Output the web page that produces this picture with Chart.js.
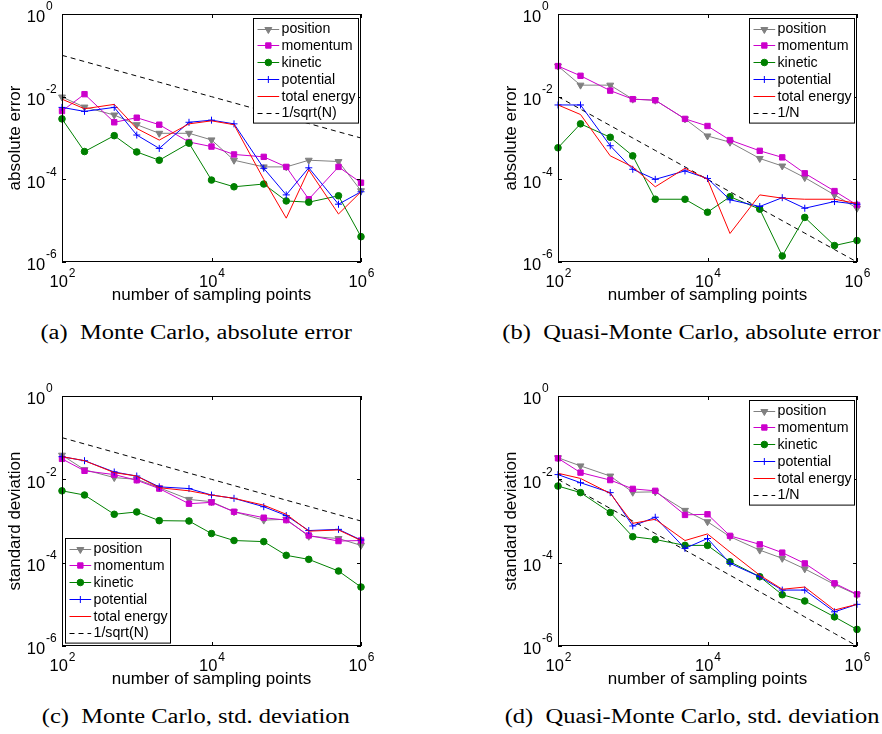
<!DOCTYPE html>
<html>
<head>
<meta charset="utf-8">
<script src="https://cdn.jsdelivr.net/npm/chart.js@4.4.1/dist/chart.umd.min.js"></script>
<style>
html, body { margin: 0; padding: 0; background: #fff; }
#page { position: relative; width: 882px; height: 734px; overflow: hidden; background: #fff; }
canvas { position: absolute; }
.caption {
    position: absolute;
    font-family: "Liberation Serif", serif;
    font-size: 20px;
    line-height: 20px;
    white-space: nowrap;
    color: #000;
}
</style>
</head>
<body>
<div id="page">
    <canvas id="chartA" width="441" height="320" style="left:0px;top:0px"></canvas>
    <canvas id="chartB" width="441" height="320" style="left:441px;top:0px"></canvas>
    <canvas id="chartC" width="441" height="320" style="left:0px;top:382px"></canvas>
    <canvas id="chartD" width="441" height="320" style="left:441px;top:382px"></canvas>
    <div class="caption" id="capA">(a)&nbsp; Monte Carlo, absolute error</div>
    <div class="caption" id="capB">(b)&nbsp; Quasi-Monte Carlo, absolute error</div>
    <div class="caption" id="capC">(c)&nbsp; Monte Carlo, std. deviation</div>
    <div class="caption" id="capD">(d)&nbsp; Quasi-Monte Carlo, std. deviation</div>
</div>
<script>
// ---- data ----
const nPoints = [100, 200, 500, 1000, 2000, 5000, 1e4, 2e4, 5e4, 1e5, 2e5, 5e5, 1e6];
const seriesNames = ['position', 'momentum', 'kinetic', 'potential', 'total energy'];
const xTickVals = [1e2, 1e4, 1e6];
const yTickVals = [1, 1e-2, 1e-4, 1e-6];

// (a) Monte Carlo, absolute error
const mcErrPosition  = [9.8e-3, 5.6e-3, 3.6e-3, 2.1e-3, 1.3e-3, 1.3e-3, 9.0e-4, 2.9e-4, 2.0e-4, 2.0e-4, 2.9e-4, 2.7e-4, 5.3e-5];
const mcErrMomentum  = [4.5e-3, 1.15e-2, 2.4e-3, 3.1e-3, 2.1e-3, 8.0e-4, 6.2e-4, 4.0e-4, 3.5e-4, 2.0e-4, 3.3e-5, 2.0e-4, 8.3e-5];
const mcErrKinetic   = [2.9e-3, 4.7e-4, 1.14e-3, 4.6e-4, 2.9e-4, 7.5e-4, 9.6e-5, 6.6e-5, 7.7e-5, 3.0e-5, 2.8e-5, 4.0e-5, 4.1e-6];
const mcErrPotential = [5.5e-3, 4.4e-3, 5.5e-3, 1.18e-3, 5.6e-4, 2.4e-3, 2.7e-3, 2.2e-3, 1.85e-4, 4.2e-5, 1.9e-4, 2.5e-5, 5.0e-5];
const mcErrTotal     = [8.7e-3, 5.1e-3, 6.5e-3, 1.7e-3, 8.9e-4, 2.2e-3, 2.6e-3, 2.1e-3, 1.0e-4, 1.15e-5, 1.7e-4, 1.45e-5, 5.0e-5];

// (b) Quasi-Monte Carlo, absolute error
const qmcErrPosition  = [5.5e-2, 1.9e-2, 1.9e-2, 8.7e-3, 8.2e-3, 2.9e-3, 1.12e-3, 7.9e-4, 3.2e-4, 2.1e-4, 1.1e-4, 4.2e-5, 2.0e-5];
const qmcErrMomentum  = [5.5e-2, 3.2e-2, 1.4e-2, 8.7e-3, 8.2e-3, 2.9e-3, 1.95e-3, 8.9e-4, 4.9e-4, 3.4e-4, 1.4e-4, 5.2e-5, 2.4e-5];
const qmcErrKinetic   = [5.8e-4, 2.2e-3, 1.04e-3, 3.7e-4, 3.3e-5, 3.3e-5, 1.6e-5, 3.8e-5, 1.9e-5, 1.4e-6, 1.2e-5, 2.5e-6, 3.3e-6];
const qmcErrPotential = [6.3e-3, 6.3e-3, 6.5e-4, 1.75e-4, 1.0e-4, 1.6e-4, 1.05e-4, 3.2e-5, 2.2e-5, 3.6e-5, 2.0e-5, 2.9e-5, 2.5e-5];
const qmcErrTotal     = [6.3e-3, 3.7e-3, 3.7e-4, 2.0e-4, 6.6e-5, 1.85e-4, 1.0e-4, 4.9e-6, 4.2e-5, 3.5e-5, 3.3e-5, 3.3e-5, 2.6e-5];

// (c) Monte Carlo, std. deviation
const mcStdPosition  = [3.8e-2, 1.7e-2, 1.1e-2, 1.0e-2, 6.3e-3, 3.3e-3, 2.9e-3, 1.67e-3, 1.05e-3, 1.1e-3, 4.3e-4, 3.8e-4, 2.6e-4];
const mcStdMomentum  = [3.1e-2, 1.6e-2, 1.3e-2, 9.5e-3, 6.0e-3, 2.6e-3, 2.8e-3, 1.67e-3, 1.2e-3, 1.05e-3, 4.5e-4, 3.3e-4, 3.4e-4];
const mcStdKinetic   = [5.3e-3, 4.2e-3, 1.45e-3, 1.65e-3, 1.02e-3, 1.0e-3, 5.0e-4, 3.4e-4, 3.2e-4, 1.5e-4, 1.2e-4, 6.3e-5, 2.6e-5];
const mcStdPotential = [3.5e-2, 2.8e-2, 1.5e-2, 1.2e-2, 6.6e-3, 6.0e-3, 4.2e-3, 3.5e-3, 2.2e-3, 1.35e-3, 5.9e-4, 6.3e-4, 3.5e-4];
const mcStdTotal     = [3.5e-2, 2.8e-2, 1.45e-2, 1.2e-2, 6.3e-3, 5.3e-3, 4.2e-3, 3.5e-3, 2.4e-3, 1.45e-3, 5.7e-4, 6.1e-4, 3.4e-4];

// (d) Quasi-Monte Carlo, std. deviation
const qmcStdPosition  = [3.3e-2, 2.1e-2, 1.2e-2, 4.9e-3, 5.0e-3, 1.8e-3, 9.6e-4, 4.2e-4, 2.0e-4, 1.27e-4, 7.1e-5, 3.0e-5, 1.7e-5];
const qmcStdMomentum  = [3.2e-2, 1.45e-2, 9.6e-3, 5.9e-3, 5.3e-3, 1.4e-3, 1.45e-3, 4.4e-4, 2.75e-4, 1.74e-4, 9.6e-5, 3.2e-5, 1.74e-5];
const qmcStdKinetic   = [6.9e-3, 4.8e-3, 1.6e-3, 4.2e-4, 3.6e-4, 2.6e-4, 2.6e-4, 1.05e-4, 4.6e-5, 1.7e-5, 1.2e-5, 5.0e-6, 2.5e-6];
const qmcStdPotential = [1.3e-2, 8.3e-3, 4.8e-3, 7.6e-4, 1.23e-3, 2.2e-4, 3.8e-4, 9.6e-5, 4.6e-5, 2.2e-5, 2.2e-5, 6.6e-6, 1.0e-5];
const qmcStdTotal     = [1.4e-2, 1.05e-2, 4.6e-3, 8.8e-4, 1.1e-3, 3.4e-4, 4.9e-4, 1.8e-4, 5.0e-5, 2.3e-5, 2.6e-5, 7.3e-6, 1.0e-5];

// reference slopes
const refSqrtN = [1e-1, 7.07e-2, 4.47e-2, 3.16e-2, 2.24e-2, 1.41e-2, 1e-2, 7.07e-3, 4.47e-3, 3.16e-3, 2.24e-3, 1.41e-3, 1e-3];
const refInvN  = [1e-2, 5e-3, 2e-3, 1e-3, 5e-4, 2e-4, 1e-4, 5e-5, 2e-5, 1e-5, 5e-6, 2e-6, 1e-6];

// ---- styles ----
const seriesStyle = [
    { color: 'rgb(128,128,128)', pointStyle: 'triangle', radius: 4, rotation: 180 },
    { color: 'rgb(204,0,204)', pointStyle: 'rect', radius: 3.8, rotation: 0 },
    { color: 'rgb(0,128,0)', pointStyle: 'circle', radius: 3.3, rotation: 0 },
    { color: 'rgb(0,0,255)', pointStyle: 'cross', radius: 3.5, rotation: 0 },
    { color: 'rgb(255,0,0)', pointStyle: false, radius: 0, rotation: 0 }
];
const FONT = '"Liberation Sans", Arial, sans-serif';

function toPts(vals) {
    return nPoints.map((n, i) => ({ x: n, y: vals[i] }));
}

function expText(v) {
    return String(Math.round(Math.log10(v)));
}

function panelPlugin(p) {
    return {
        id: 'matlabFrame',
        afterDraw(chart) {
            const ctx = chart.ctx;
            const a = chart.chartArea;
            const xs = chart.scales.x, ys = chart.scales.y;
            ctx.save();

            // box + inward ticks
            ctx.strokeStyle = '#000';
            ctx.lineWidth = 1;
            ctx.strokeRect(a.left + 0.5, a.top + 0.5, a.right - a.left - 1, a.bottom - a.top - 1);
            ctx.beginPath();
            xTickVals.forEach(v => {
                const px = Math.round(xs.getPixelForValue(v)) + 0.5;
                ctx.moveTo(px, a.bottom); ctx.lineTo(px, a.bottom - 4);
                ctx.moveTo(px, a.top); ctx.lineTo(px, a.top + 4);
            });
            yTickVals.forEach(v => {
                const py = Math.round(ys.getPixelForValue(v)) + 0.5;
                ctx.moveTo(a.left, py); ctx.lineTo(a.left + 4, py);
                ctx.moveTo(a.right, py); ctx.lineTo(a.right - 4, py);
            });
            ctx.stroke();

            // tick labels 10^k
            ctx.fillStyle = '#000';
            ctx.textBaseline = 'alphabetic';
            ctx.textAlign = 'left';
            const baseFont = '16.5px ' + FONT, supFont = '12px ' + FONT;
            ctx.font = baseFont;
            const w10 = ctx.measureText('10').width;
            xTickVals.forEach(v => {
                const px = xs.getPixelForValue(v);
                const e = expText(v);
                ctx.font = supFont;
                const we = ctx.measureText(e).width;
                const x0 = px - (w10 + 1 + we) / 2 + 0.5;
                ctx.font = baseFont;
                ctx.fillText('10', x0, a.bottom + 24.7);
                ctx.font = supFont;
                ctx.fillText(e, x0 + w10 + 1, a.bottom + 15);
            });
            yTickVals.forEach(v => {
                const py = ys.getPixelForValue(v);
                const e = expText(v);
                const x0 = a.left - 35.3;
                ctx.font = baseFont;
                ctx.fillText('10', x0, py + 8.3);
                ctx.font = supFont;
                ctx.fillText(e, x0 + w10 + 1, py - 3.7);
            });

            // axis titles
            ctx.font = '17px ' + FONT;
            ctx.textAlign = 'center';
            ctx.fillText('number of sampling points', (a.left + a.right) / 2, a.bottom + 38);
            ctx.save();
            ctx.translate(a.left - 46.5, (a.top + a.bottom) / 2);
            ctx.rotate(-Math.PI / 2);
            ctx.textBaseline = 'middle';
            ctx.fillText(p.yTitle, 0, 0);
            ctx.restore();

            // legend box
            const bw = 105, bh = 104.6;
            let bx, by;
            if (p.legend === 'sw') { bx = a.left + 3.3; by = a.bottom - 3.7 - bh; }
            else { bx = a.right - 3.3 - bw; by = a.top + 3.7; }
            bx = Math.round(bx) + 0.5; by = Math.round(by) + 0.5;
            ctx.fillStyle = '#fff';
            ctx.fillRect(bx, by, bw, bh);
            ctx.strokeStyle = '#000';
            ctx.lineWidth = 1;
            ctx.strokeRect(bx, by, bw, bh);

            const labels = seriesNames.concat([p.refLabel]);
            ctx.font = '14.2px ' + FONT;
            ctx.textAlign = 'left';
            ctx.textBaseline = 'middle';
            labels.forEach((lab, i) => {
                const ry = by + 10 + i * 16.9;
                const x1 = bx + 4, x2 = bx + 25.7;
                const st = seriesStyle[i];
                ctx.lineWidth = 1;
                if (st) {
                    ctx.strokeStyle = st.color;
                    ctx.setLineDash([]);
                } else {
                    ctx.strokeStyle = '#000';
                    ctx.setLineDash([5, 4]);
                }
                ctx.beginPath();
                ctx.moveTo(x1, Math.round(ry) + 0.5);
                ctx.lineTo(x2, Math.round(ry) + 0.5);
                ctx.stroke();
                ctx.setLineDash([]);
                if (st && st.pointStyle) {
                    ctx.fillStyle = st.color;
                    ctx.strokeStyle = st.color;
                    Chart.helpers.drawPoint(ctx, {
                        pointStyle: st.pointStyle, radius: st.radius,
                        rotation: st.rotation, borderWidth: 1
                    }, (x1 + x2) / 2, Math.round(ry) + 0.5);
                }
                ctx.fillStyle = '#000';
                ctx.fillText(lab, bx + 28, ry + 0.5);
            });
            ctx.restore();
        }
    };
}

function makePanel(p) {
    const datasets = p.series.map((vals, i) => {
        const st = seriesStyle[i];
        return {
            label: seriesNames[i],
            data: toPts(vals),
            borderColor: st.color,
            backgroundColor: st.color,
            borderWidth: 1,
            pointStyle: st.pointStyle,
            pointRadius: st.radius,
            pointRotation: st.rotation,
            pointBackgroundColor: st.color,
            pointBorderColor: st.color,
            pointBorderWidth: 1,
            clip: false,
            order: 10 - i
        };
    });
    datasets.push({
        label: p.refLabel,
        data: toPts(p.ref),
        borderColor: '#000',
        borderWidth: 1,
        borderDash: [5, 4],
        pointRadius: 0,
        clip: false,
        order: 20
    });
    return new Chart(document.getElementById(p.id).getContext('2d'), {
        type: 'line',
        data: { datasets: datasets },
        options: {
            responsive: false,
            animation: false,
            events: [],
            layout: { padding: p.pad },
            elements: { line: { tension: 0 } },
            scales: {
                x: { type: 'logarithmic', min: 1e2, max: 1e6, display: false },
                y: { type: 'logarithmic', min: 1e-6, max: 1, display: false }
            },
            plugins: { legend: { display: false }, tooltip: { enabled: false } }
        },
        plugins: [panelPlugin(p)]
    });
}

makePanel({
    id: 'chartA',
    series: [mcErrPosition, mcErrMomentum, mcErrKinetic, mcErrPotential, mcErrTotal],
    ref: refSqrtN, refLabel: '1/sqrt(N)', yTitle: 'absolute error',
    pad: { left: 62, top: 14, right: 80, bottom: 58 }, legend: 'ne'
});
makePanel({
    id: 'chartB',
    series: [qmcErrPosition, qmcErrMomentum, qmcErrKinetic, qmcErrPotential, qmcErrTotal],
    ref: refInvN, refLabel: '1/N', yTitle: 'absolute error',
    pad: { left: 117, top: 14, right: 25, bottom: 58 }, legend: 'ne'
});
makePanel({
    id: 'chartC',
    series: [mcStdPosition, mcStdMomentum, mcStdKinetic, mcStdPotential, mcStdTotal],
    ref: refSqrtN, refLabel: '1/sqrt(N)', yTitle: 'standard deviation',
    pad: { left: 62, top: 14, right: 80, bottom: 56 }, legend: 'sw'
});
makePanel({
    id: 'chartD',
    series: [qmcStdPosition, qmcStdMomentum, qmcStdKinetic, qmcStdPotential, qmcStdTotal],
    ref: refInvN, refLabel: '1/N', yTitle: 'standard deviation',
    pad: { left: 117, top: 14, right: 25, bottom: 56 }, legend: 'ne'
});

// captions: stretch the serif text to the width of the original caption
const capA = document.getElementById('capA');
const stretch = 311 / capA.offsetWidth;
[['capA', 196.3, 332], ['capB', 691.5, 332], ['capC', 196.3, 716], ['capD', 691.5, 716]].forEach(c => {
    const el = document.getElementById(c[0]);
    const w = el.offsetWidth;
    el.style.left = (c[1] - w / 2) + 'px';
    el.style.top = (c[2] - 10) + 'px';
    el.style.transform = 'scaleX(' + stretch + ')';
});
</script>
</body>
</html>
